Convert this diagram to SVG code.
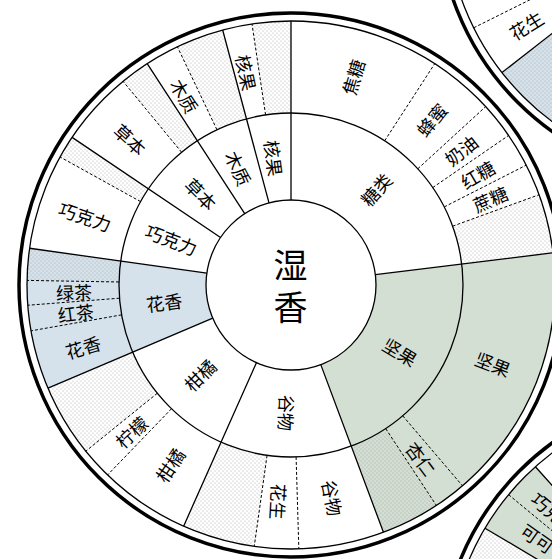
<svg xmlns="http://www.w3.org/2000/svg" width="552" height="559" viewBox="0 0 552 559">
<defs>
<pattern id="dots" width="4" height="4" patternUnits="userSpaceOnUse"><circle cx="1" cy="1" r="0.5" fill="#999"/><circle cx="3" cy="3" r="0.5" fill="#999"/></pattern>
<style>
.ln{stroke:#000;stroke-width:1.3;fill:none}
.ds{stroke:#000;stroke-width:1;fill:none;stroke-dasharray:3 2}
.thick{stroke:#000;stroke-width:3.5;fill:none}
.blue{fill:#d5e2eb}
.green{fill:#d4dfd3}
.dot{fill:url(#dots)}
text{font-family:"Noto Sans CJK SC","Noto Sans CJK TC",sans-serif;font-size:18px;fill:#000;text-anchor:middle;dominant-baseline:central}
.big{font-size:34px;writing-mode:vertical-rl;letter-spacing:8px}
</style>
</defs>
<rect width="552" height="559" fill="#fff"/>

<g id="wheel-top-right">
<path class="blue" d="M502.0 72.5 A264 264 0 0 0 664.2 170.0 L680.1 79.4 A172 172 0 0 1 574.5 15.9 Z"/>
<path class="dot" d="M502.0 72.5 A264 264 0 0 0 664.2 170.0 L680.1 79.4 A172 172 0 0 1 574.5 15.9 Z"/>
<circle class="ln" cx="710" cy="-90" r="264"/>
<circle class="thick" cx="710" cy="-90" r="272"/>
<path class="ln" d="M502.0 72.5 L574.5 15.9"/>
<path class="ds" d="M473.7 27.8 L556.1 -13.3"/>
<text transform="translate(526 25) rotate(-32)">花生</text>
</g>

<g id="wheel-bottom-right">
<path class="green" d="M535.4 466.8 A264 264 0 0 0 485.0 528.2 L564.1 575.2 A172 172 0 0 1 596.9 535.2 Z"/>
<path class="dot" d="M485.0 528.2 A264 264 0 0 0 449.0 640.0 L540.7 648.0 A172 172 0 0 1 564.1 575.2 Z"/>
<circle class="ln" cx="712" cy="663" r="264"/>
<circle class="thick" cx="712" cy="663" r="272"/>
<path class="ln" d="M535.4 466.8 L596.9 535.2 M485.0 528.2 L564.1 575.2"/>
<path class="ds" d="M508.6 494.7 L579.5 553.4"/>
<text transform="translate(555 513) rotate(40)">巧克力</text>
<text transform="translate(538 538) rotate(35)">可可</text>
</g>

<g id="wheel-main">
<g id="fills">
<path class="blue" d="M29.57 248.26 A264 264 0 0 0 47.99 388.15 L212.76 318.21 A85 85 0 0 1 206.83 273.17 Z"/>
<path class="green" d="M383.46 532.28 A264 264 0 0 0 553.03 252.83 L375.37 274.64 A85 85 0 0 1 320.77 364.62 Z"/>
<path class="dot" d="M553.03 252.83 A264 264 0 0 0 539.08 194.71 L452.63 226.17 A172 172 0 0 1 461.72 264.04 Z"/>
<path class="dot" d="M291 21 A264 264 0 0 0 251.98 23.90 L265.58 114.89 A172 172 0 0 1 291 113 Z"/>
<path class="dot" d="M222.67 29.99 A264 264 0 0 0 177.35 46.72 L216.95 129.75 A172 172 0 0 1 246.48 118.86 Z"/>
<path class="dot" d="M147.21 63.59 A264 264 0 0 0 123.07 81.29 L181.59 152.28 A172 172 0 0 1 197.32 140.75 Z"/>
<path class="dot" d="M72.13 137.37 A264 264 0 0 0 60.10 157.01 L140.57 201.61 A172 172 0 0 1 148.41 188.82 Z"/>
<path class="dot" d="M29.57 248.26 A264 264 0 0 0 27.04 280.39 L119.03 282.00 A172 172 0 0 1 120.67 261.06 Z"/>
<path class="dot" d="M47.99 388.15 A264 264 0 0 0 85.83 451.14 L157.33 393.24 A172 172 0 0 1 132.67 352.21 Z"/>
<path class="dot" d="M183.62 526.18 A264 264 0 0 0 254.26 546.43 L267.06 455.33 A172 172 0 0 1 221.04 442.13 Z"/>
<path class="dot" d="M383.46 532.28 A264 264 0 0 0 436.34 505.40 L385.69 428.59 A172 172 0 0 1 351.24 446.11 Z"/>
</g>
<g id="rings">
<circle class="ln" cx="291" cy="285" r="85"/>
<circle class="ln" cx="291" cy="285" r="172"/>
<circle class="ln" cx="291" cy="285" r="264"/>
<circle class="thick" cx="291" cy="285" r="272"/>
</g>
<g id="dividers">
<path class="ln" d="M375.37 274.64 L553.03 252.83 M291 200 L291 21 M269.00 202.90 L222.67 29.99 M244.71 213.71 L147.21 63.59 M220.53 237.47 L72.13 137.37 M206.83 273.17 L29.57 248.26 M212.76 318.21 L47.99 388.15 M256.43 362.65 L183.62 526.18 M320.77 364.62 L383.46 532.28"/>
<path class="ds" d="M452.63 226.17 L539.08 194.71 M444.25 206.91 L526.23 165.15 M432.75 187.58 L508.57 135.47 M417.81 168.80 L485.64 106.64 M384.68 140.75 L434.79 63.59 M265.58 114.89 L251.98 23.90 M216.95 129.75 L177.35 46.72 M181.59 152.28 L123.07 81.29 M140.57 201.61 L60.10 157.01 M119.03 282.00 L27.04 280.39 M119.51 298.20 L27.78 305.25 M121.61 314.87 L31.01 330.84 M157.33 393.24 L85.83 451.14 M171.52 408.73 L107.61 474.91 M267.06 455.33 L254.26 546.43 M296.10 456.92 L298.83 548.88 M385.69 428.59 L436.34 505.40 M402.71 415.79 L462.45 485.75"/>
</g>
<g id="center"><text class="big" x="290.5" y="290.5">湿香</text></g>
<g id="seg-tanglei"><text transform="translate(375.8 189.1) rotate(-48.5)">糖类</text>
<text transform="translate(352.6 76.9) rotate(-73.5)">焦糖</text>
<text transform="translate(431.2 119.4) rotate(-49.75)">蜂蜜</text>
<text transform="translate(460.8 149.9) rotate(-38.5)">奶油</text>
<text transform="translate(477.5 174.0) rotate(-30.75)">红糖</text>
<text transform="translate(490.0 198.5) rotate(-23.5)">蔗糖</text></g>
<g id="seg-heguo"><text transform="translate(274.3 158.1) rotate(82.5)">核果</text>
<text transform="translate(246.8 72.5) rotate(78.25)">核果</text></g>
<g id="seg-muzhi"><text transform="translate(238.9 168.1) rotate(66)">木质</text>
<text transform="translate(185.0 95.7) rotate(60.75)">木质</text></g>
<g id="seg-caoben"><text transform="translate(201.3 193.7) rotate(45.5)">草本</text>
<text transform="translate(130.4 139.1) rotate(42.25)">草本</text></g>
<g id="seg-qiaokeli"><text transform="translate(171.5 239.1) rotate(21)">巧克力</text>
<text transform="translate(85.2 216.1) rotate(18.5)">巧克力</text></g>
<g id="seg-huaxiang"><text transform="translate(164.1 301.7) rotate(-7.5)">花香</text>
<text transform="translate(74.1 291.6) rotate(-1.7)">绿茶</text>
<text transform="translate(75.7 312.2) rotate(-7.2)">红茶</text>
<text transform="translate(82.9 346.6) rotate(-16.5)">花香</text></g>
<g id="seg-ganju"><text transform="translate(199.7 374.7) rotate(-44.5)">柑橘</text>
<text transform="translate(131.0 431.6) rotate(-42.5)">柠檬</text>
<text transform="translate(169.7 464.9) rotate(-56)">柑橘</text></g>
<g id="seg-guwu"><text transform="translate(287.1 412.9) rotate(91.75)">谷物</text>
<text transform="translate(279.1 501.7) rotate(93.15)">花生</text>
<text transform="translate(332.8 497.9) rotate(78.9)">谷物</text></g>
<g id="seg-jianguo"><text transform="translate(400.4 351.4) rotate(31.25)">坚果</text>
<text transform="translate(421.4 458.4) rotate(53.05)">杏仁</text>
<text transform="translate(493.2 363.6) rotate(21.25)">坚果</text></g>
</g>
<g id="connectors"/>
</svg>
